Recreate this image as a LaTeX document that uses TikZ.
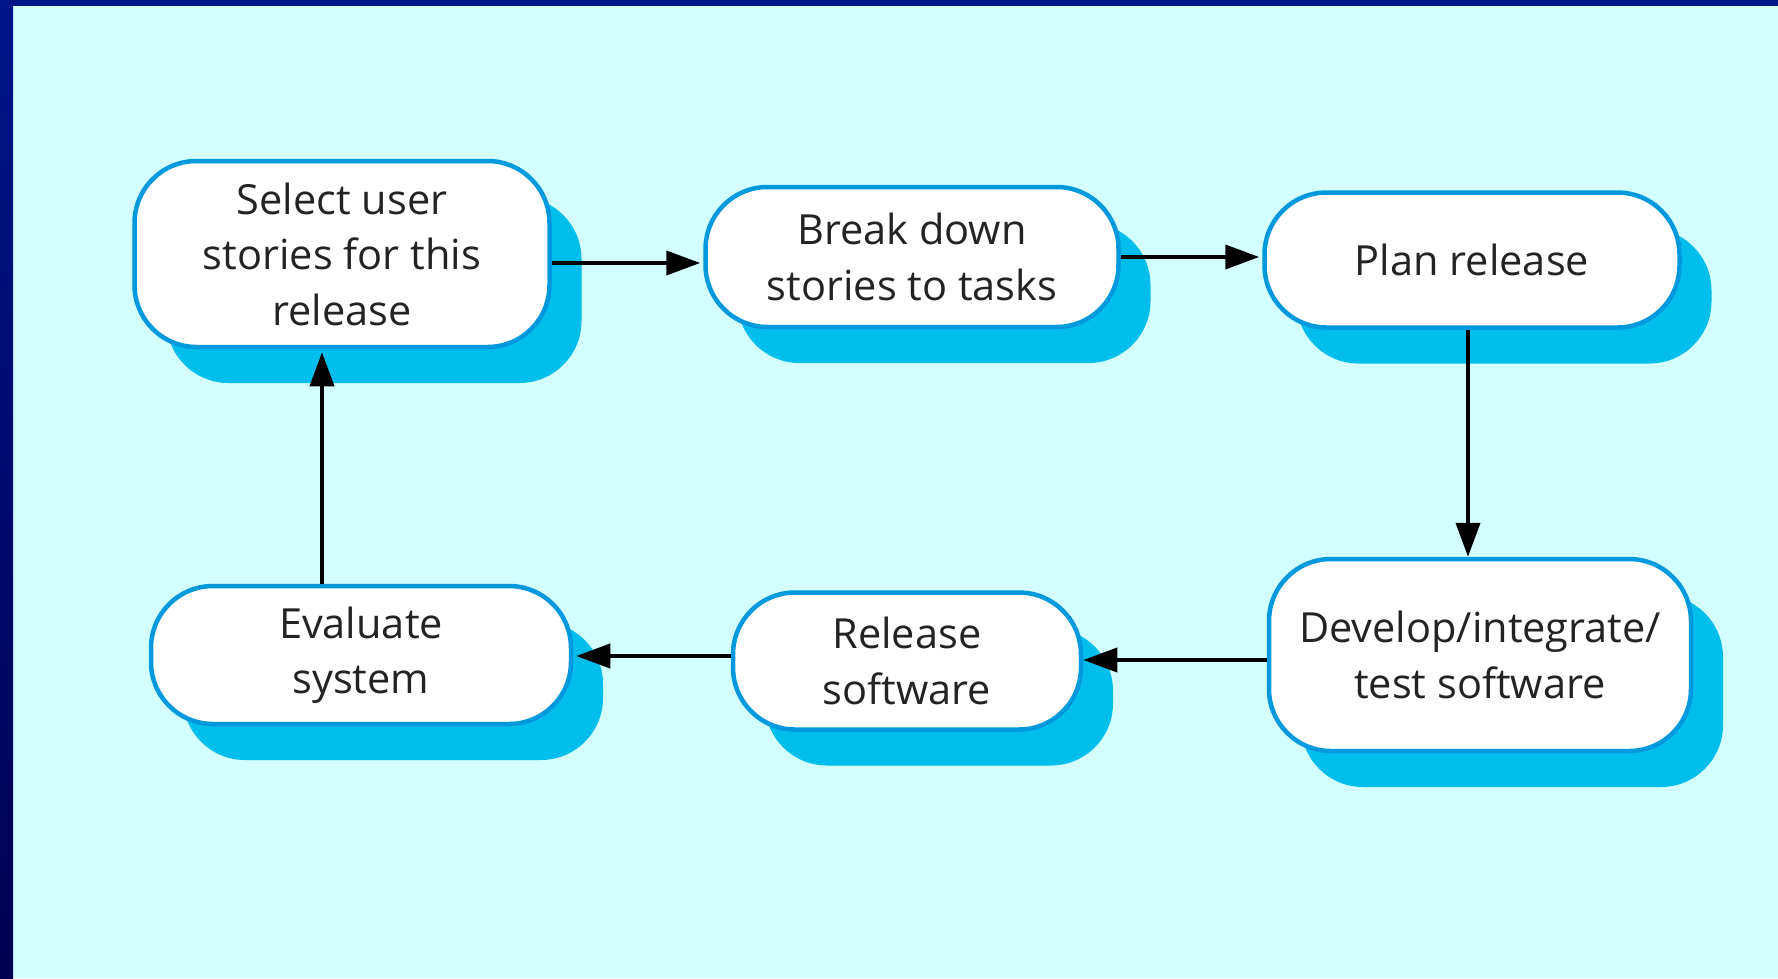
\documentclass[tikz,border=0pt]{standalone}
\usepackage{fontspec}
\setmainfont{Open Sans}
\usetikzlibrary{arrows.meta,shadows}
\definecolor{bgcol}{RGB}{212,255,255}
\definecolor{frametop}{RGB}{0,20,137}
\definecolor{framebot}{RGB}{0,0,80}
\definecolor{bordercol}{RGB}{0,153,221}
\definecolor{shadowcol}{RGB}{0,190,236}
\definecolor{txtcol}{RGB}{35,35,35}
\tikzset{
  stepbox/.style={draw=bordercol, line width=4.5pt, fill=white, rounded corners=62pt,
    inner sep=0pt, align=center, text=txtcol,
    font=\fontsize{41.5}{55.5}\selectfont,
    general shadow={fill=shadowcol, draw=none, shadow xshift=32pt, shadow yshift=-36pt}},
  arr/.style={line width=4pt, draw=black, -{Triangle[length=34pt,width=24pt]}, shorten >=3pt}
}
\begin{document}
\begin{tikzpicture}[x=1pt,y=-1pt]
\useasboundingbox (0,0) rectangle (1778,978);
\fill[bgcol] (0,0) rectangle (1778,978);
\shade[top color=frametop, bottom color=framebot] (0,0) rectangle (13,978);
\fill[frametop] (0,0) rectangle (1778,6);

\node[stepbox, minimum width=415pt, minimum height=186pt] (n1) at (342,254) {Select user\\stories for this\\release};
\node[stepbox, minimum width=413pt, minimum height=140pt] (n2) at (912,257) {Break down\\stories to tasks};
\node[stepbox, minimum width=415pt, minimum height=135pt] (n3) at (1472,260) {Plan release};
\node[stepbox, minimum width=420pt, minimum height=138pt] (n4) at (361,655) {Evaluate\\system};
\node[stepbox, minimum width=348pt, minimum height=137pt] (n5) at (907,661) {Release\\software};
\node[stepbox, minimum width=422pt, minimum height=192pt] (n6) at (1480,655) {Develop/integrate/\\test software};

\coordinate (a12) at ([yshift=-9pt]n1.east);
\draw[arr] (a12) -- (a12 -| n2.west);
\draw[arr] (n2.east) -- (n2.east -| n3.west);
\coordinate (a36) at ([xshift=-4pt]n3.south);
\draw[arr, shorten >=0pt] (a36) -- (a36 |- n6.north);
\coordinate (a65) at ([yshift=-5pt]n6.west);
\draw[arr, shorten >=0pt] (a65) -- (a65 -| n5.east);
\coordinate (a54) at ([yshift=5pt]n5.west);
\draw[arr] (a54) -- (a54 -| n4.east);
\coordinate (a41) at ([xshift=-39pt]n4.north);
\draw[arr] (a41) -- (a41 |- n1.south);
\end{tikzpicture}
\end{document}
